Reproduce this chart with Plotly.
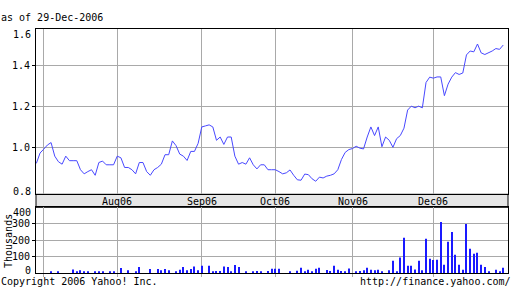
import plotly.graph_objects as go

# ---- data ----
price = [0.922, 0.972, 0.991, 1.011, 1.023, 0.957, 0.930, 0.918, 0.957, 0.935,
         0.935, 0.935, 0.891, 0.871, 0.882, 0.891, 0.864, 0.926, 0.933, 0.915,
         0.915, 0.915, 0.957, 0.949, 0.902, 0.902, 0.891, 0.871, 0.926, 0.926,
         0.882, 0.864, 0.891, 0.902, 0.918, 0.964, 0.964, 1.031, 1.008, 0.967,
         0.957, 0.936, 0.980, 0.980, 1.019, 1.099, 1.104, 1.109, 1.099, 1.034,
         1.050, 1.014, 1.050, 1.050, 0.957, 0.918, 0.926, 0.918, 0.949, 0.915,
         0.895, 0.915, 0.915, 0.891, 0.891, 0.891, 0.882, 0.871, 0.876, 0.890,
         0.864, 0.842, 0.840, 0.870, 0.867, 0.847, 0.835, 0.855, 0.851, 0.860,
         0.864, 0.871, 0.891, 0.941, 0.975, 0.989, 0.994, 1.005, 0.996, 0.992,
         1.050, 1.099, 1.057, 1.099, 1.003, 1.050, 1.034, 1.000, 1.042, 1.057,
         1.093, 1.181, 1.200, 1.192, 1.200, 1.192, 1.315, 1.341, 1.336, 1.342,
         1.342, 1.251, 1.307, 1.341, 1.363, 1.354, 1.361, 1.449, 1.468, 1.464,
         1.502, 1.459, 1.451, 1.458, 1.468, 1.480, 1.476, 1.497]

volume_k = [0, 0, 0, 0, 8, 0, 8, 0, 0, 0,
            22, 8, 16, 8, 8, 0, 8, 8, 8, 0,
            8, 8, 0, 30, 0, 16, 0, 8, 36, 0,
            0, 25, 0, 25, 16, 25, 16, 0, 8, 20,
            36, 16, 25, 40, 16, 44, 0, 44, 8, 12,
            12, 40, 36, 8, 48, 36, 0, 8, 0, 8,
            12, 8, 0, 12, 26, 26, 26, 0, 0, 8,
            0, 14, 32, 10, 20, 10, 26, 32, 0, 18,
            12, 44, 20, 12, 10, 28, 0, 10, 12, 16,
            32, 20, 16, 20, 10, 0, 16, 75, 10, 95,
            214, 44, 44, 22, 75, 16, 208, 87, 79, 81,
            311, 50, 190, 250, 111, 50, 20, 299, 147, 117,
            123, 50, 36, 8, 0, 20, 8, 32]

day_index = list(range(len(price)))

month_ticks = [2, 22, 45, 65, 86, 108]
month_labels = ["", "Aug06", "Sep06", "Oct06", "Nov06", "Dec06"]

price_ticks = [1.0, 1.2, 1.4]
price_tick_text = ["1.0", "1.2", "1.4"]
vol_ticks = [100, 200, 300]
vol_tick_text = ["100", "200", "300"]

FONT = "DejaVu Sans Mono"
W, H = 512, 288
GRID = "#a9a9a9"

def py(px):  # pixel row -> paper y
    return 1 - px / H

x_dom = [36 / W, 508 / W]
price_dom = [py(194.3), py(28.7)]
vol_dom = [py(273), py(207.3)]
xr = [-0.1, 128.3]

fig = go.Figure()
fig.add_trace(go.Scatter(x=day_index, y=price, mode="lines",
                         line=dict(color="#4848ff", width=1),
                         xaxis="x", yaxis="y", hoverinfo="skip"))
fig.add_trace(go.Bar(x=day_index, y=volume_k, width=0.28,
                     marker=dict(color="#1a1aff", line=dict(width=0)),
                     xaxis="x2", yaxis="y2", hoverinfo="skip"))

axis_common = dict(showline=True, mirror=True, linecolor="black", linewidth=1,
                   showgrid=True, gridcolor=GRID, gridwidth=1, zeroline=False,
                   tickfont=dict(family=FONT, size=10, color="black"))

fig.update_layout(
    width=W, height=H, margin=dict(l=0, r=0, t=0, b=0), autosize=False,
    paper_bgcolor="white", plot_bgcolor="white", showlegend=False,
    xaxis=dict(domain=x_dom, range=xr, anchor="y", tickvals=month_ticks,
               showticklabels=False, ticks="", **axis_common),
    yaxis=dict(domain=price_dom, range=[0.7716, 1.5764], anchor="x",
               tickvals=price_ticks, ticktext=price_tick_text,
               ticks="outside", ticklen=3, tickcolor="black", **axis_common),
    xaxis2=dict(domain=x_dom, range=xr, anchor="y2", tickvals=month_ticks,
                showticklabels=False, ticks="outside", ticklen=3, tickcolor=GRID,
                **axis_common),
    yaxis2=dict(domain=vol_dom, range=[0, 400], anchor="x2",
                tickvals=vol_ticks, ticktext=vol_tick_text,
                ticks="outside", ticklen=3, tickcolor="black", **axis_common),
)

# date band between the panels
fig.add_shape(type="rect", xref="paper", yref="paper",
              x0=x_dom[0], x1=x_dom[1], y0=vol_dom[1], y1=price_dom[0],
              fillcolor="#e6e6e6", line=dict(color="black", width=1), layer="below")

anns = []
for t, lab in zip(month_ticks, month_labels):
    if lab:
        anns.append(dict(x=t, xref="x", y=py(201), yref="paper", text=lab,
                         showarrow=False, xanchor="center", yanchor="middle"))
# edge tick labels
anns += [
    dict(x=32 / W, y=py(34), text="1.6", xanchor="right"),
    dict(x=32 / W, y=py(191.5), text="0.8", xanchor="right"),
    dict(x=32 / W, y=py(212.5), text="400", xanchor="right"),
    dict(x=32 / W, y=py(270.5), text="0", xanchor="right"),
    dict(x=0, y=py(17.5), text="as of 29-Dec-2006", xanchor="left"),
    dict(x=0, y=py(281), text="Copyright 2006 Yahoo! Inc.", xanchor="left"),
    dict(x=1, y=py(281), text="http://finance.yahoo.com/", xanchor="right"),
    dict(x=8 / W, y=py(241), text="Thousands", textangle=-90, xanchor="center"),
]
for a in anns:
    a.setdefault("xref", "paper")
    a.setdefault("yref", "paper")
    a.setdefault("showarrow", False)
    a.setdefault("yanchor", "middle")
    a["font"] = dict(family=FONT, size=10, color="black")
    a["borderpad"] = 0
fig.update_layout(annotations=anns)

fig.write_html("out.html")
